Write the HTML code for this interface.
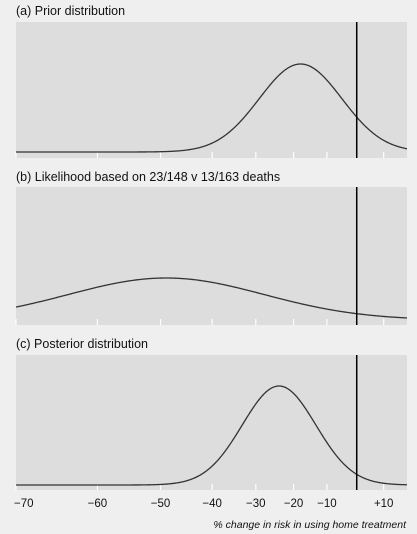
<!DOCTYPE html>
<html><head><meta charset="utf-8"><style>
body{margin:0;background:#efefef;width:417px;height:534px;overflow:hidden}
svg{display:block}
text{font-family:"Liberation Sans",sans-serif;fill:#111}
</style></head><body>
<svg width="417" height="534">
<g id="root"></g>
</svg>
<script>
// Data
const panelTitles=["(a) Prior distribution","(b) Likelihood based on 23/148 v 13/163 deaths","(c) Posterior distribution"];
const panelNames=["prior","likelihood","posterior"];
const modePct=[-18,-49,-24];          // % change at peak
const sdLog=[0.146,0.346,0.13];       // spread on log relative-risk scale
const peakHeight=[88,42,99];          // relative curve heights
const tickValues=[-70,-60,-50,-40,-30,-20,-10,10];
const tickLabels=["\u221270","\u221260","\u221250","\u221240","\u221230","\u221220","\u221210","+10"];
const nullValue=0;

const ns="http://www.w3.org/2000/svg";
const root=document.getElementById('root');
const X0=16,X1=407,LMIN=Math.log(0.3),K=283;
function xs(p){return X0+(Math.log(1+p/100)-LMIN)*K;}
const panelTop=[22,187,355],panelBot=[158,325,490],base=[152,320,485],titleY=[15,181,348];
function el(t,a){const e=document.createElementNS(ns,t);for(const k in a)e.setAttribute(k,a[k]);root.appendChild(e);return e;}
for(let i=0;i<3;i++){
 const r=el('rect',{x:X0,y:panelTop[i],width:X1-X0,height:panelBot[i]-panelTop[i],fill:'#dddddd'});
 
 
 const t=el('text',{x:16,y:titleY[i],'font-size':12.5});t.textContent=panelTitles[i];
 
 
 tickValues.forEach(v=>{const tk=el('line',{x1:xs(v),x2:xs(v),y1:panelBot[i]-6,y2:panelBot[i],stroke:'#fff','stroke-width':1.2});
  
  });
 const mu=Math.log(1+modePct[i]/100);let d='';
 for(let px=X0;px<=X1;px+=1){const l=LMIN+(px-X0)/K;const z=(l-mu)/sdLog[i];const y=base[i]-peakHeight[i]*Math.exp(-z*z/2);d+=(px===X0?'M':'L')+px+','+y.toFixed(2);}
 const c=el('path',{d:d,fill:'none',stroke:'#333','stroke-width':1.3});
 
 
 const nl=el('line',{x1:xs(nullValue),x2:xs(nullValue),y1:panelTop[i],y2:panelBot[i],stroke:'#000','stroke-width':1.5});
 
 
}
tickValues.forEach((v,j)=>{const t=el('text',{x:xs(v),y:507,'font-size':11.5,'text-anchor':v===-70?'start':'middle'});
 if(v===-70)t.setAttribute('x',X0-2);
 t.textContent=tickLabels[j];
 
 });
const at=el('text',{x:406,y:528,'font-size':10.5,'font-style':'italic','text-anchor':'end'});
at.textContent="% change in risk in using home treatment";


</script>
</body></html>
